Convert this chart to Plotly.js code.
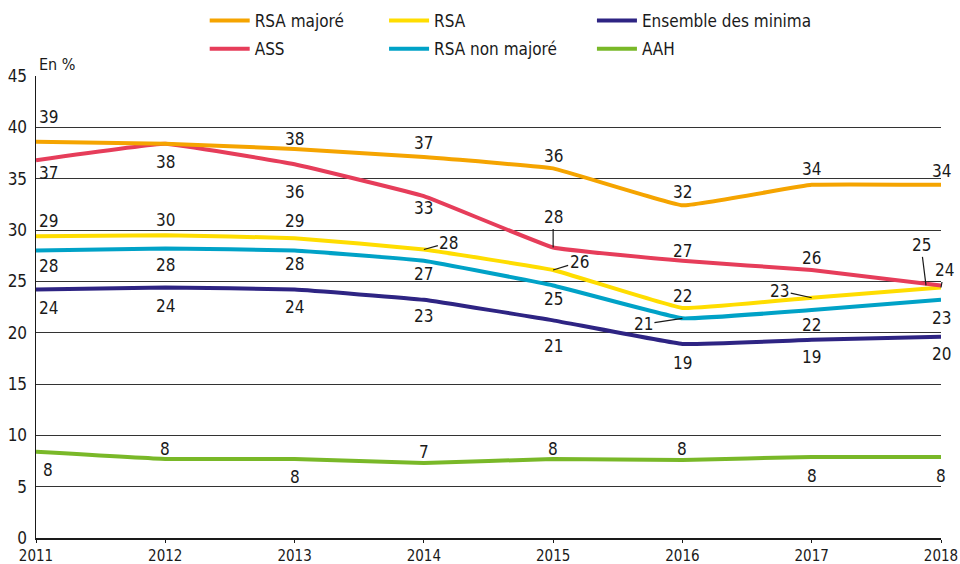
<!DOCTYPE html>
<html>
<head>
<meta charset="utf-8">
<script src="https://cdn.plot.ly/plotly-3.0.1.min.js"></script>
<style>
  html, body { margin: 0; padding: 0; background: #fff; }
  #chart { width: 960px; height: 564px; }
</style>
</head>
<body>
<div id="chart"></div>
<script>
// ---- Data ----
const years = [2011, 2012, 2013, 2014, 2015, 2016, 2017, 2018];
const rsaMajore    = [38.6, 38.4, 37.9, 37.1, 36.0, 32.4, 34.4, 34.4];
const ass          = [36.8, 38.4, 36.4, 33.3, 28.3, 27.0, 26.1, 24.6];
const rsa          = [29.4, 29.5, 29.2, 28.1, 26.1, 22.4, 23.4, 24.4];
const rsaNonMajore = [28.0, 28.2, 28.0, 27.0, 24.6, 21.4, 22.2, 23.2];
const ensemble     = [24.2, 24.4, 24.2, 23.2, 21.2, 18.9, 19.3, 19.6];
const aah          = [8.4, 7.7, 7.7, 7.3, 7.7, 7.6, 7.9, 7.9];
const seriesNames  = ["RSA majoré", "ASS", "RSA", "RSA non majoré", "Ensemble des minima", "AAH"];
const yTicks       = [0, 5, 10, 15, 20, 25, 30, 35, 40, 45];
const unitLabel    = "En %";

// ---- Styles ----
const FONT = "'Liberation Sans Narrow', 'DejaVu Sans Condensed', 'Roboto Condensed', Arial, sans-serif";
const colors = {
  "RSA majoré": "#F5A400",
  "ASS": "#E63D5A",
  "RSA": "#FFDD00",
  "RSA non majoré": "#00A2C7",
  "Ensemble des minima": "#2E2483",
  "AAH": "#79B828"
};
const legendOf = {
  "RSA majoré": "legend", "ASS": "legend",
  "RSA": "legend2", "RSA non majoré": "legend2",
  "Ensemble des minima": "legend3", "AAH": "legend3"
};

// label placement: number = vertical pixel offset (down positive), object = leader line offset, null = no label
const labelPlacement = {
  "RSA majoré":        [-25, null, -10, -14, -12, -13, -16, -14],
  "ASS":               [13, 18, 28, 12, {ax: 0, ay: -30}, -10, -12, {ax: -5, ay: -40, xs: -15}],
  "RSA":               [-15, -15, -17, {ax: 25, ay: -7}, {ax: 26, ay: -8}, -12, {ax: -32, ay: -7}, {ax: 3, ay: -17}],
  "RSA non majoré":    [15, 17, 13, 13, 14, {ax: -39, ay: 6}, 15, 18],
  "Ensemble des minima": [18, 19, 17, 16, 26, 19, 17, 17],
  "AAH":               [18, -10, 18, -11, -10, -11, 19, 19]
};

const valuesOf = {
  "RSA majoré": rsaMajore, "ASS": ass, "RSA": rsa,
  "RSA non majoré": rsaNonMajore, "Ensemble des minima": ensemble, "AAH": aah
};

// draw order: later on top
const drawOrder = ["AAH", "Ensemble des minima", "RSA non majoré", "RSA", "ASS", "RSA majoré"];
const legendRank = {"RSA majoré": 1, "ASS": 2, "RSA": 1, "RSA non majoré": 2, "Ensemble des minima": 1, "AAH": 2};

const traces = drawOrder.map(name => ({
  type: "scatter",
  mode: "lines",
  name: name,
  x: years,
  y: valuesOf[name],
  line: {color: colors[name], width: 4, shape: "spline", smoothing: 0.25},
  legend: legendOf[name],
  legendgroup: name,
  legendrank: legendRank[name],
  hoverinfo: "skip"
}));

const annotations = [];
seriesNames.forEach(name => {
  const vals = valuesOf[name];
  labelPlacement[name].forEach((p, i) => {
    if (p === null) return;
    const base = {
      x: years[i], y: vals[i], xref: "x", yref: "y",
      text: String(Math.round(vals[i])),
      font: {family: FONT, size: 17, color: "#1a1a1a"}
    };
    if (typeof p === "number") {
      annotations.push(Object.assign(base, {
        showarrow: false, yshift: -p, xshift: i === 0 ? 12 : 0,
        xanchor: "center", yanchor: "middle"
      }));
    } else {
      annotations.push(Object.assign(base, {
        showarrow: true, ax: p.ax, ay: p.ay, axref: "pixel", ayref: "pixel",
        arrowhead: 0, arrowwidth: 1.2, arrowcolor: "#1a1a1a", standoff: 0,
        xshift: p.xs || 0
      }));
    }
  });
});
annotations.push({
  xref: "paper", yref: "paper", x: 0, y: 1, xanchor: "left", yanchor: "bottom",
  xshift: 1, yshift: 0, showarrow: false, text: unitLabel,
  font: {family: FONT, size: 16, color: "#1a1a1a"}
});

const legendBase = {
  orientation: "v", yanchor: "top", xanchor: "left", y: 1.158,
  bgcolor: "rgba(0,0,0,0)", borderwidth: 0,
  font: {family: FONT, size: 17, color: "#1a1a1a"},
  traceorder: "grouped", itemwidth: 40, tracegroupgap: 3
};

const layout = {
  width: 960, height: 564,
  margin: {l: 36, r: 19, t: 76, b: 26, autoexpand: false},
  paper_bgcolor: "#ffffff", plot_bgcolor: "#ffffff",
  font: {family: FONT, size: 17, color: "#1a1a1a"},
  xaxis: {
    range: [2011, 2018], tickmode: "array", tickvals: years, ticktext: years.map(String),
    showgrid: false, zeroline: false, showline: true, linecolor: "#1a1a1a", linewidth: 1.5,
    ticks: "outside", ticklen: 3, tickcolor: "#1a1a1a", automargin: false,
    tickfont: {family: FONT, size: 15, color: "#1a1a1a"}, fixedrange: true
  },
  yaxis: {
    range: [0, 45], tickmode: "array", tickvals: yTicks, ticktext: yTicks.map(String),
    showgrid: true, gridcolor: "#333333", gridwidth: 1, zeroline: false, automargin: false,
    showline: true, linecolor: "#1a1a1a", linewidth: 1.5, ticks: "", ticklabelstandoff: 4,
    tickfont: {family: FONT, size: 17, color: "#1a1a1a"}, fixedrange: true
  },
  legend: Object.assign({}, legendBase, {x: 0.1864}),
  legend2: Object.assign({}, legendBase, {x: 0.3846}),
  legend3: Object.assign({}, legendBase, {x: 0.6143}),
  showlegend: true,
  annotations: annotations
};

Plotly.newPlot("chart", traces, layout, {displayModeBar: false, staticPlot: true});
</script>
</body>
</html>
